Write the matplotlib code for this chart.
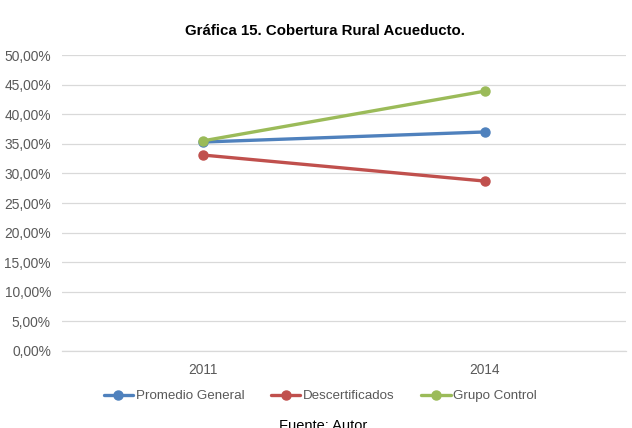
import numpy as np
import matplotlib.pyplot as plt
from matplotlib.ticker import FuncFormatter

plt.rcParams['font.family'] = ['Liberation Sans', 'DejaVu Sans']

years = ['2011', '2014']
promedio_general = [35.3, 37.0]
descertificados = [33.1, 28.7]
grupo_control = [35.5, 43.9]

series = [
    ('Promedio General', promedio_general, '#4F81BD'),
    ('Descertificados', descertificados, '#C0504D'),
    ('Grupo Control', grupo_control, '#9BBB59'),
]

fig = plt.figure(figsize=(6.32, 4.28), dpi=100)
ax = fig.add_axes([62 / 632, 77 / 428, 564 / 632, 296 / 428])

x = np.arange(len(years))
for name, vals, color in series:
    ax.plot(x, vals, color=color, linewidth=2.4, marker='o', markersize=6.5,
            label=name, solid_capstyle='round', zorder=3)

ax.set_xlim(-0.5, len(years) - 0.5)
ax.set_ylim(0, 50)
ax.set_yticks(np.arange(0, 51, 5))
ax.yaxis.set_major_formatter(FuncFormatter(lambda v, p: f'{v:.2f}%'.replace('.', ',')))
ax.set_xticks(x)
ax.set_xticklabels(years)

ax.grid(axis='y', color='#D9D9D9', linewidth=0.9, zorder=0)
for s in ['top', 'right', 'left']:
    ax.spines[s].set_visible(False)
ax.spines['bottom'].set_color('#D9D9D9')
ax.spines['bottom'].set_linewidth(0.9)
ax.tick_params(axis='both', length=0, colors='#595959', labelsize=9.9)
ax.tick_params(axis='y', pad=8)
ax.tick_params(axis='x', pad=9)

fig.text(0.515, 1 - 31 / 428, 'Gráfica 15. Cobertura Rural Acueducto.', ha='center', va='center',
         fontsize=10.8, fontweight='bold', color='#000000')

leg = fig.legend(loc='center', bbox_to_anchor=(0.507, 1 - 396 / 428), ncol=3, frameon=False,
                 fontsize=9.6, handlelength=2.2, columnspacing=2.0, handletextpad=0.2)
for t in leg.get_texts():
    t.set_color('#595959')

fig.text(0.511, 1 - 426 / 428, 'Fuente: Autor', ha='center', va='center', fontsize=10.5, color='#000000')

plt.savefig('out.png', dpi=100)
